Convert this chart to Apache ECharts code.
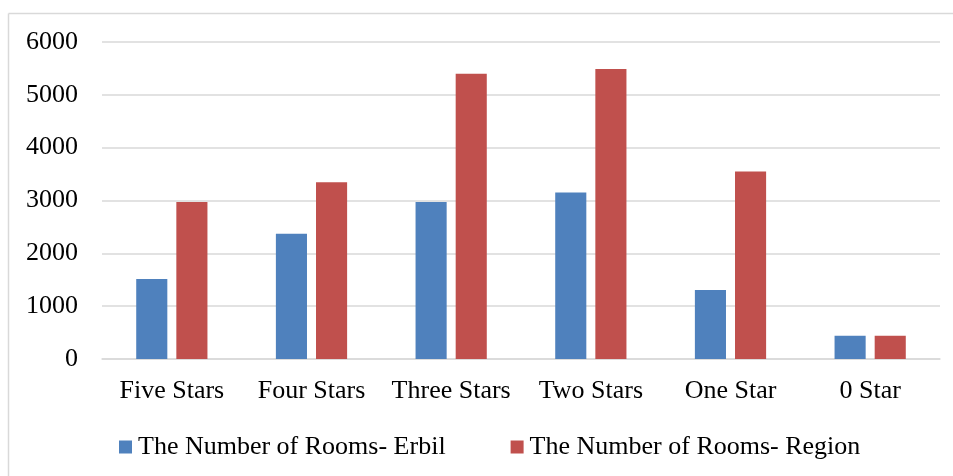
<!DOCTYPE html>
<html>
<head>
<meta charset="utf-8">
<title>The Number of Rooms</title>
<script src="https://cdn.jsdelivr.net/npm/echarts@6/dist/echarts.min.js"></script>
<style>
  html, body { margin: 0; padding: 0; background: #ffffff; }
  #chart { width: 953px; height: 476px; }
</style>
</head>
<body>
<div id="chart"></div>
<script>
// Hotel classes along the x axis
const categories = ['Five Stars', 'Four Stars', 'Three Stars', 'Two Stars', 'One Star', '0 Star'];

// Room counts per class
const roomsErbil = [1515, 2370, 2970, 3150, 1305, 440];
const roomsRegion = [2970, 3345, 5400, 5490, 3550, 440];

// Series names shown in the legend
const seriesNames = ['The Number of Rooms- Erbil', 'The Number of Rooms- Region'];

const FONT = '"Liberation Serif", "Times New Roman", serif';
const FONT_SIZE = 26;
const GRID_COLOR = '#d9d9d9';

const chart = echarts.init(document.getElementById('chart'), null, { renderer: 'canvas' });

chart.setOption({
  backgroundColor: '#ffffff',
  animation: false,
  textStyle: { fontFamily: FONT, color: '#000' },
  // thin frame around the chart area (left and top edges)
  graphic: [
    { type: 'line', shape: { x1: 8.5, y1: 13.5, x2: 953, y2: 13.5 }, style: { stroke: GRID_COLOR, lineWidth: 1.5 }, silent: true },
    { type: 'line', shape: { x1: 8.5, y1: 13.5, x2: 8.5, y2: 476 }, style: { stroke: GRID_COLOR, lineWidth: 1.5 }, silent: true }
  ],
  grid: { left: 102, right: 13, top: 42, bottom: 117, containLabel: false },
  legend: {
    data: seriesNames,
    left: 119,
    top: 434,
    padding: 0,
    itemWidth: 13,
    itemHeight: 13,
    itemGap: 65,
    icon: 'rect',
    textStyle: { fontFamily: FONT, fontSize: FONT_SIZE, color: '#000', padding: [0, 0, 0, 1] }
  },
  xAxis: {
    type: 'category',
    data: categories,
    axisLine: { show: true, lineStyle: { color: GRID_COLOR, width: 1.5 } },
    axisTick: { show: false },
    axisLabel: { fontFamily: FONT, fontSize: FONT_SIZE, color: '#000', margin: 19, interval: 0 }
  },
  yAxis: {
    type: 'value',
    min: 0,
    max: 6000,
    interval: 1000,
    axisLine: { show: false },
    axisTick: { show: false },
    axisLabel: {
      fontFamily: FONT,
      fontSize: FONT_SIZE,
      color: '#000',
      margin: 24,
      formatter: (v) => String(v)
    },
    splitLine: { lineStyle: { color: GRID_COLOR, width: 1.5 } }
  },
  series: [
    {
      name: seriesNames[0],
      type: 'bar',
      data: roomsErbil,
      itemStyle: { color: '#4F81BD' },
      barGap: '29%',
      barCategoryGap: '49%'
    },
    {
      name: seriesNames[1],
      type: 'bar',
      data: roomsRegion,
      itemStyle: { color: '#C0504D' },
      barGap: '29%',
      barCategoryGap: '49%'
    }
  ]
});
</script>
</body>
</html>
